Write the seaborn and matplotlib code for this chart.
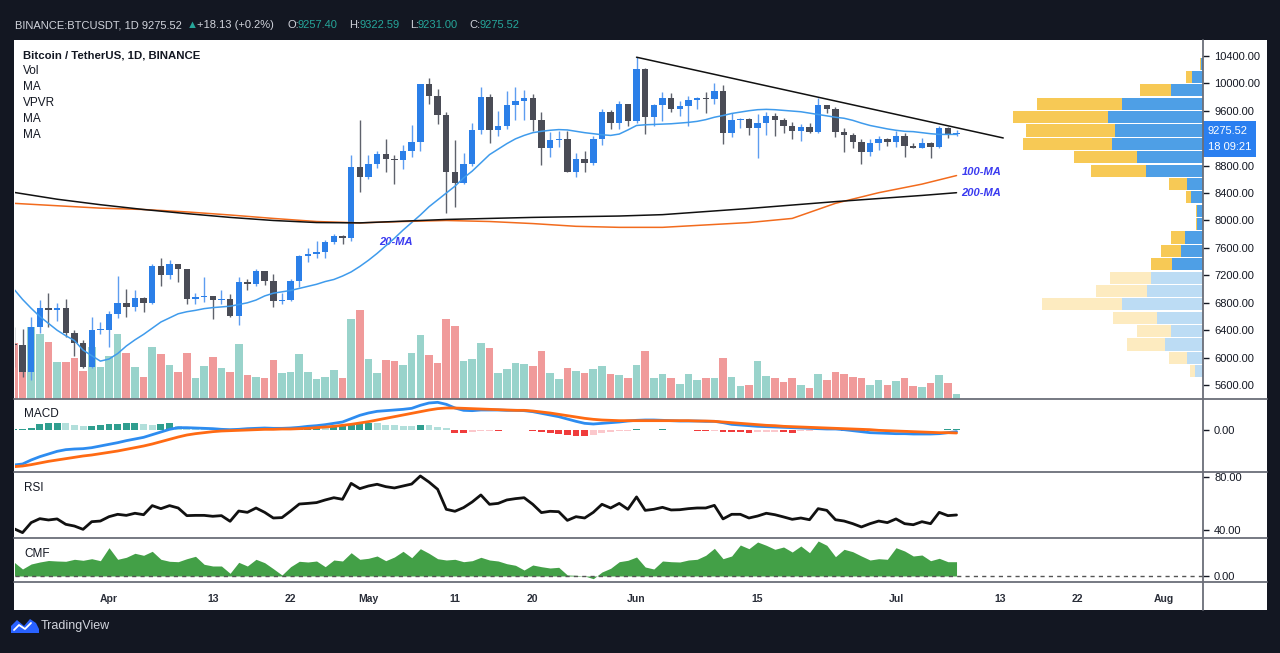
import numpy as np
import pandas as pd
import matplotlib
matplotlib.use('Agg')
import matplotlib.pyplot as plt
import matplotlib.dates as mdates
from matplotlib.patches import Rectangle, Polygon
from matplotlib.lines import Line2D
from matplotlib.transforms import blended_transform_factory
import seaborn as sns

W, H = 1280, 653

# ---- daily BTC/USDT candles, 2020-03-21 .. 2020-07-08 ----
start_date = '2020-03-21'
opens = [6200, 6180, 5790, 6450, 6730, 6690, 6730, 6360, 6220, 5860,
         6400, 6410, 6640, 6800, 6740, 6870, 6790, 7330, 7200, 7360,
         7290, 6850, 6880, 6905, 6845, 6860, 6610, 7100, 7080, 7260,
         7125, 6830, 6845, 7120, 7480, 7505, 7540, 7690, 7775, 7740,
         8780, 8630, 8830, 8970, 8890, 8875, 9020, 9140, 9985, 9810,
         9535, 8710, 8545, 8820, 9315, 9800, 9315, 9375, 9680, 9735,
         9785, 9460, 9055, 9180, 9185, 8705, 8890, 8845, 9185, 9580,
         9420, 9695, 9450, 10205, 9510, 9680, 9790, 9620, 9670, 9750,
         9780, 9775, 9890, 9275, 9465, 9475, 9345, 9425, 9530, 9460,
         9380, 9305, 9360, 9285, 9680, 9620, 9290, 9240, 9145, 9000,
         9125, 9185, 9140, 9230, 9085, 9060, 9135, 9070, 9345, 9257.40]
highs = [6440, 6420, 6600, 6840, 6950, 6790, 6860, 6400, 6260, 6600,
         6520, 6680, 7190, 7000, 6990, 6890, 7370, 7450, 7420, 7370,
         7290, 6950, 7180, 6905, 6990, 6930, 7170, 7150, 7300, 7260,
         7220, 6940, 7150, 7500, 7600, 7700, 7720, 7800, 7795, 8950,
         9460, 8950, 9010, 9190, 8950, 9100, 9390, 9990, 10070, 9915,
         9575, 9170, 8980, 9420, 9940, 9850, 9590, 9890, 9950, 9900,
         9845, 9580, 9290, 9310, 9310, 8980, 9016, 9225, 9625, 9605,
         9740, 9700, 10380, 10230, 9695, 9880, 9855, 9735, 9810, 9800,
         9880, 10000, 9970, 9560, 9495, 9490, 9545, 9580, 9565, 9490,
         9435, 9400, 9425, 9780, 9690, 9660, 9350, 9280, 9190, 9185,
         9235, 9200, 9305, 9270, 9125, 9200, 9145, 9375, 9365, 9322.59]
lows = [5860, 5720, 5680, 6360, 6440, 6530, 6300, 6030, 5850, 5850,
        6350, 6160, 6580, 6600, 6680, 6670, 6780, 7050, 7150, 7110,
        6780, 6780, 6810, 6570, 6780, 6600, 6470, 6990, 7040, 7060,
        6740, 6780, 6820, 7030, 7400, 7450, 7460, 7660, 7660, 7700,
        8420, 8610, 8760, 8710, 8530, 8750, 8930, 9020, 9700, 9400,
        8110, 8200, 8530, 8800, 9255, 9130, 9230, 9330, 9460, 9470,
        9300, 8810, 8930, 9075, 8700, 8630, 8700, 8810, 9100, 9330,
        9330, 9375, 9420, 9266, 9380, 9450, 9580, 9530, 9380, 9620,
        9560, 9700, 9110, 9220, 9355, 9240, 8915, 9240, 9230, 9280,
        9195, 9160, 9275, 9280, 9570, 9210, 9005, 9050, 8820, 8940,
        9025, 9080, 9070, 8925, 9050, 9050, 8905, 9050, 9205, 9231.00]
closes = [6180, 5790, 6450, 6730, 6690, 6730, 6360, 6220, 5860, 6400,
          6410, 6640, 6800, 6740, 6870, 6790, 7330, 7200, 7360, 7290,
          6850, 6880, 6905, 6845, 6860, 6610, 7100, 7080, 7260, 7125,
          6830, 6845, 7120, 7480, 7505, 7540, 7690, 7775, 7740, 8780,
          8630, 8830, 8970, 8890, 8875, 9020, 9140, 9985, 9810, 9535,
          8710, 8545, 8820, 9315, 9800, 9315, 9375, 9680, 9735, 9785,
          9460, 9055, 9180, 9185, 8705, 8890, 8845, 9185, 9580, 9420,
          9695, 9450, 10205, 9510, 9680, 9790, 9620, 9670, 9750, 9780,
          9775, 9890, 9275, 9465, 9475, 9345, 9425, 9530, 9460, 9380,
          9305, 9360, 9285, 9680, 9620, 9290, 9240, 9145, 9000, 9125,
          9185, 9140, 9230, 9085, 9060, 9135, 9070, 9345, 9255, 9275.52]
volume = [56, 53, 72, 65, 57, 37, 37, 41, 28, 52,
          32, 43, 65, 46, 32, 22, 52, 45, 34, 27,
          46, 21, 33, 42, 31, 27, 55, 24, 22, 21,
          39, 26, 27, 45, 27, 20, 22, 29, 21, 80,
          89, 40, 26, 39, 38, 34, 46, 64, 44, 36,
          80, 73, 38, 40, 56, 51, 26, 30, 36, 35,
          33, 48, 26, 20, 31, 28, 26, 30, 33, 25,
          24, 21, 34, 48, 21, 25, 21, 15, 25, 19,
          21, 21, 41, 22, 13, 14, 38, 23, 21, 17,
          21, 14, 11, 25, 19, 27, 25, 22, 21, 14,
          19, 14, 18, 21, 13, 12, 16, 24, 16, 5]

ma20 = [7000, 6850, 6720, 6600, 6500, 6400, 6320, 6250, 6110, 6030,
        5950, 5980, 6060, 6170, 6260, 6340, 6430, 6520, 6580, 6640,
        6670, 6690, 6715, 6730, 6740, 6750, 6775, 6800, 6840, 6900,
        6940, 6960, 6980, 7010, 7040, 7070, 7110, 7140, 7190, 7250,
        7330, 7420, 7520, 7630, 7740, 7860, 7970, 8080, 8200, 8300,
        8400, 8500, 8620, 8720, 8840, 8960, 9040, 9120, 9190, 9240,
        9280, 9300, 9315, 9325, 9320, 9300, 9280, 9265, 9250, 9240,
        9260, 9320, 9385, 9395, 9400, 9405, 9410, 9420, 9430, 9445,
        9470, 9505, 9530, 9560, 9580, 9600, 9615, 9620, 9615, 9605,
        9595, 9585, 9565, 9545, 9525, 9505, 9490, 9460, 9420, 9385,
        9360, 9335, 9315, 9300, 9295, 9280, 9265, 9255, 9255, 9255]
ma_days = [0, 5, 10, 15, 20, 25, 30, 35, 40, 45, 50, 55, 60, 65, 70,
           75, 80, 85, 90, 95, 100, 105, 109]
ma100 = [8250, 8215, 8180, 8160, 8125, 8080, 8030, 7985, 7965, 7985, 8000, 7985,
         7955, 7915, 7900, 7900, 7935, 7970, 8030, 8250, 8405, 8530, 8655]
ma200 = [8410, 8310, 8230, 8160, 8100, 8045, 8000, 7970, 7965, 7990, 8015, 8030,
         8045, 8055, 8065, 8085, 8130, 8175, 8225, 8275, 8320, 8365, 8405]
trend_days = [72, 114.4]
trend_prices = [10380, 9203]

macd = [-1050, -1020, -900, -800, -720, -640, -590, -570, -560, -530,
        -480, -430, -380, -320, -270, -220, -140, -60, 20, 70,
        70, 60, 50, 40, 20, 10, 20, 40, 50, 60,
        50, 50, 60, 80, 110, 130, 160, 200, 240, 340,
        440, 510, 560, 580, 600, 620, 650, 740, 810, 830,
        770, 660, 590, 580, 600, 600, 600, 590, 590, 580,
        550, 500, 450, 400, 330, 260, 200, 180, 200, 220,
        240, 270, 290, 300, 300, 290, 280, 270, 270, 270,
        260, 260, 220, 170, 150, 130, 110, 100, 90, 80,
        70, 60, 50, 40, 30, 30, 10, -20, -50, -80,
        -90, -100, -110, -110, -120, -120, -120, -110, -80, -50]
signal = [-1100, -1080, -1040, -990, -940, -900, -860, -820, -780, -750,
          -710, -670, -630, -580, -530, -480, -420, -350, -280, -210,
          -150, -110, -80, -50, -30, -20, -10, 0, 10, 20,
          20, 30, 30, 40, 50, 70, 90, 110, 140, 170,
          210, 250, 300, 350, 400, 450, 500, 550, 600, 640,
          660, 660, 650, 640, 630, 620, 610, 600, 590, 590,
          570, 540, 510, 470, 430, 390, 350, 320, 300, 290,
          280, 280, 280, 280, 280, 280, 280, 280, 280, 270,
          270, 260, 240, 220, 200, 180, 160, 140, 130, 110,
          100, 90, 80, 70, 60, 50, 40, 30, 20, 10,
          -10, -20, -30, -40, -50, -60, -70, -80, -80, -90]
hist = [20, 20, 50, 170, 200, 220, 200, 150, 120, 130,
        140, 170, 190, 200, 210, 170, 160, 190, 200, 120,
        80, 50, 40, 30, 20, 10, 15, 20, 25, 20,
        15, 20, 40, 60, 70, 80, 75, 90, 110, 170,
        200, 210, 200, 160, 140, 120, 110, 150, 140, 100,
        50, -80, -100, -60, -40, -20, -25, -10, -8, -6,
        -20, -60, -100, -120, -160, -170, -190, -150, -90, -50,
        -30, -20, 20, 15, 10, 30, -10, -12, -14, -15,
        -17, -15, -50, -55, -60, -90, -70, -50, -45, -70,
        -75, -40, -30, -10, 10, -10, -15, -20, -30, -35,
        -40, -30, -20, -15, -12, -10, -8, 10, 30, 35]
rsi = [41.0, 38.0, 45.6, 48.6, 47.6, 48.4, 44.3, 43.0, 40.5, 46.3,
       46.8, 50.1, 51.9, 51.1, 52.7, 51.6, 58.5, 56.2, 58.5, 56.7,
       50.9, 51.1, 51.1, 50.4, 50.9, 46.6, 54.4, 53.4, 56.7, 53.4,
       49.1, 49.4, 54.4, 59.7, 60.2, 60.8, 62.8, 64.5, 63.3, 75.4,
       71.4, 73.4, 74.7, 72.9, 71.9, 73.4, 74.9, 81.0, 76.4, 70.9,
       55.7, 54.2, 57.0, 61.3, 66.6, 59.5, 60.2, 62.8, 63.8, 64.5,
       59.5, 53.2, 54.2, 53.9, 47.3, 50.1, 49.1, 53.4, 59.5, 56.7,
       60.2, 55.7, 65.1, 54.9, 55.7, 57.2, 55.2, 55.4, 56.2, 56.7,
       56.7, 58.7, 48.4, 51.9, 51.9, 49.1, 50.6, 52.7, 51.6, 49.9,
       48.1, 49.1, 47.8, 56.2, 54.9, 47.8, 46.8, 44.8, 42.3, 44.8,
       46.8, 45.6, 48.4, 44.8, 44.0, 46.3, 44.8, 53.4, 50.9, 51.4]
cmf = [0.14, 0.07, 0.12, 0.14, 0.155, 0.15, 0.147, 0.167, 0.157, 0.173,
       0.153, 0.283, 0.167, 0.187, 0.227, 0.207, 0.247, 0.167, 0.147, 0.143,
       0.173, 0.197, 0.117, 0.10, 0.10, 0.027, 0.137, 0.10, 0.167, 0.133,
       0.073, 0.01, 0.093, 0.147, 0.14, 0.15, 0.093, 0.16, 0.15, 0.233,
       0.167, 0.177, 0.20, 0.153, 0.19, 0.247, 0.183, 0.273, 0.227, 0.173,
       0.16, 0.167, 0.143, 0.153, 0.187, 0.16, 0.15, 0.123, 0.107, 0.06,
       0.11, 0.093, 0.08, 0.087, 0.01, 0.007, 0.0, -0.027, 0.04, 0.077,
       0.143, 0.157, 0.19, 0.09, 0.07, 0.15, 0.143, 0.14, 0.16, 0.167,
       0.207, 0.277, 0.173, 0.20, 0.31, 0.273, 0.34, 0.307, 0.267, 0.29,
       0.24, 0.30, 0.233, 0.35, 0.307, 0.193, 0.267, 0.243, 0.20, 0.16,
       0.173, 0.167, 0.283, 0.25, 0.20, 0.21, 0.153, 0.177, 0.143, 0.143]

# volume profile (VPVR), rows from top (10384) to bottom (5705)
vp_top, vp_bottom = 10384, 5705
vp_up = [7, 32, 97, 242, 284, 263, 272, 199, 170, 49, 37, 17,
         17, 55, 67, 94, 157, 169, 244, 139, 97, 113, 49, 23]
vp_down = [3, 18, 93, 255, 286, 267, 268, 189, 165, 54, 13, 3,
           3, 42, 60, 63, 121, 153, 238, 130, 100, 114, 54, 15]
value_area_rows = 16

price_ticks = [5600, 6000, 6400, 6800, 7200, 7600, 8000, 8400, 8800,
               9200, 9600, 10000, 10400]
hidden_tick = 9200   # covered by the last-price box
date_ticks = ['2020-04-01', '2020-04-13', '2020-04-22', '2020-05-01', '2020-05-11',
              '2020-05-20', '2020-06-01', '2020-06-15', '2020-07-01', '2020-07-13',
              '2020-07-22', '2020-08-01']
date_labels = ['Apr', '13', '22', 'May', '11', '20', 'Jun', '15', 'Jul', '13', '22', 'Aug']


def box(x0, y0, x1, y1):
    return [x0 / W, 1 - y1 / H, (x1 - x0) / W, (y1 - y0) / H]


def fp(x, y):
    return (x / W, 1 - y / H)


sns.set_style('white')
plt.rcParams['font.family'] = ['Liberation Sans', 'DejaVu Sans']
TXT = '#131722'
UP, DOWN = '#2b7fe8', '#4a4c56'

fig = plt.figure(figsize=(W / 100, H / 100), dpi=100, facecolor='#131722')
fig.add_artist(Rectangle(fp(14, 610), (1267 - 14) / W, 570 / H, transform=fig.transFigure,
                         facecolor='white', edgecolor='none', zorder=-5))

dates = pd.date_range(start_date, periods=len(closes), freq='D')
xd = mdates.date2num(dates.to_pydatetime())
x0 = xd[0]
xlim = (x0 + 0.13, x0 + 137.5)
plim = (5405, 10631)
o, h, l, c = map(np.array, (opens, highs, lows, closes))
is_up = c >= o

# volume (under the candles)
axv = fig.add_axes(box(15, 40, 1203, 398.5))
axv.bar(xd, volume, width=0.88, color=np.where(is_up, '#99d3cb', '#f09a9a'), linewidth=0)
axv.set_xlim(xlim)
axv.set_ylim(0, 358.5)
axv.axis('off')

# price panel
axp = fig.add_axes(box(15, 40, 1203, 398.5))
axp.patch.set_alpha(0)
axp.vlines(xd, l, h, colors=np.where(is_up, '#5d9df0', '#5f626c'), linewidth=1, zorder=3)
body = np.maximum(np.abs(c - o), 14)
axp.bar(xd, body, bottom=np.minimum(o, c), width=0.74,
        color=np.where(is_up, UP, DOWN), linewidth=0, zorder=4)
sns.lineplot(x=xd, y=ma20, ax=axp, color='#3f9bec', linewidth=1.1, zorder=5)
sns.lineplot(x=x0 + np.array(ma_days), y=ma100, ax=axp, color='#f26b1d', linewidth=1.1, zorder=5)
sns.lineplot(x=x0 + np.array(ma_days), y=ma200, ax=axp, color='#111111', linewidth=1.1, zorder=5)
sns.lineplot(x=x0 + np.array(trend_days), y=trend_prices, ax=axp, color='#111111', linewidth=1.1, zorder=5)
lab = dict(color='#3a3af0', fontsize=8, style='italic', fontweight='bold')
axp.text(x0 + 44.2, 7687, '20-MA', ha='center', va='center', **lab)
axp.annotate('100-MA', xy=(xd[-1], ma100[-1]), xytext=(5, 4), textcoords='offset pixels',
             va='center', ha='left', **lab)
axp.annotate('200-MA', xy=(xd[-1], ma200[-1]), xytext=(5, 0), textcoords='offset pixels',
             va='center', ha='left', **lab)
axp.set_xlim(xlim)
axp.set_ylim(plim)
axp.set_xticks([])
axp.yaxis.tick_right()
axp.set_yticks(price_ticks)
axp.set_yticklabels(['' if p == hidden_tick else f'{p:.2f}' for p in price_ticks])
for s in axp.spines.values():
    s.set_visible(False)
tr = blended_transform_factory(axp.transAxes, axp.transData)
axp.annotate(f'{closes[-1]:.2f}\n18 09:21', xy=(1, closes[-1]), xycoords=tr,
             xytext=(5, 7), textcoords='offset pixels', ha='left', va='top', color='white',
             fontsize=8, linespacing=1.75, annotation_clip=False, zorder=20,
             bbox=dict(boxstyle='square,pad=0.42', fc='#2a7ff0', ec='none'))

# volume profile
axvp = fig.add_axes(box(1003, 40, 1203, 398.5))
edges = np.linspace(vp_top, vp_bottom, len(vp_up) + 1)
centers = (edges[:-1] + edges[1:]) / 2
step = abs(edges[1] - edges[0])
rows = np.arange(len(vp_up))
axvp.barh(centers, vp_up, height=step * 0.9, linewidth=0,
          color=np.where(rows < value_area_rows, '#4e9fe6', '#bcdcf4'))
axvp.barh(centers, vp_down, left=vp_up, height=step * 0.9, linewidth=0,
          color=np.where(rows < value_area_rows, '#f7c955', '#fdebc0'))
axvp.set_xlim(600, 0)
axvp.set_ylim(plim)
axvp.axis('off')

# MACD panel
axm = fig.add_axes(box(15, 398.5, 1203, 471.5))
axm.patch.set_alpha(0)
hcols, prev = [], 0
for v in hist:
    if v >= 0:
        hcols.append('#2f9e8f' if v >= prev else '#b2dfdb')
    else:
        hcols.append('#f03c3c' if v <= prev else '#fbc8cc')
    prev = v
axm.bar(xd, hist, width=0.8, color=hcols, linewidth=0)
sns.lineplot(x=xd, y=macd, ax=axm, color='#2d8cf0', linewidth=2)
sns.lineplot(x=xd, y=signal, ax=axm, color='#ff6a13', linewidth=2)
axm.set_ylim(-1245, 945)
axm.set_yticks([0])
axm.set_yticklabels(['0.00'])

# RSI panel
axr = fig.add_axes(box(15, 471.5, 1203, 537.5))
axr.patch.set_alpha(0)
sns.lineplot(x=xd, y=rsi, ax=axr, color='#111111', linewidth=2)
axr.set_ylim(34.3, 84.4)
axr.set_yticks([40, 80])
axr.set_yticklabels(['40.00', '80.00'])

# CMF panel
axc = fig.add_axes(box(15, 537.5, 1203, 582))
axc.patch.set_alpha(0)
axc.fill_between(xd, 0, cmf, color='#43a047', linewidth=0)
axc.axhline(0, color='#555555', linewidth=1, linestyle=(0, (3, 3)))
axc.set_ylim(-0.06, 0.385)
axc.set_yticks([0])
axc.set_yticklabels(['0.00'])
axc.set_xticks(mdates.date2num(pd.to_datetime(date_ticks).to_pydatetime()))
axc.set_xticklabels(date_labels, fontsize=7.5, fontweight='bold', color='#2a2e39')
axc.tick_params(axis='x', length=4, width=1, pad=5, color='#555555')

for ax in (axm, axr, axc):
    ax.set_xlim(xlim)
    ax.yaxis.tick_right()
    for s in ax.spines.values():
        s.set_visible(False)
for ax in (axm, axr):
    ax.set_xticks([])
for ax in (axp, axm, axr, axc):
    ax.tick_params(axis='y', length=4, width=1, pad=4, labelsize=8, colors=TXT)

# separators
sep = dict(transform=fig.transFigure, color='#6b6e78', linewidth=1.3, zorder=10)
for yy in (398.5, 471.5, 537.5, 582):
    fig.add_artist(Line2D([14 / W, 1267 / W], [1 - yy / H] * 2, **sep))
fig.add_artist(Line2D([1203 / W] * 2, [1 - 40 / H, 1 - 610 / H], **sep))

# legend texts
fig.text(*fp(23, 55), 'Bitcoin / TetherUS, 1D, BINANCE', fontsize=8.2, fontweight='bold',
         color=TXT, va='center')
for k, name in enumerate(['Vol', 'MA', 'VPVR', 'MA', 'MA']):
    fig.text(*fp(23, 71 + 16 * k), name, fontsize=8.5, color=TXT, va='center')
for name, yy in (('MACD', 414), ('RSI', 488), ('CMF', 554)):
    fig.text(*fp(24, yy), name, fontsize=8.5, color=TXT, va='center')

# header
hdr = [('BINANCE:BTCUSDT, 1D 9275.52', 15, '#d1d4dc'), ('\u25b2', 187, '#26a69a'),
       ('+18.13 (+0.2%)', 197, '#d1d4dc'), ('O:', 287, '#d1d4dc'), ('9257.40', 298, '#26a69a'),
       ('H:', 349, '#d1d4dc'), ('9322.59', 360, '#26a69a'), ('L:', 410, '#d1d4dc'),
       ('9231.00', 418, '#26a69a'), ('C:', 469, '#d1d4dc'), ('9275.52', 479, '#26a69a')]
for t, xx, col in hdr:
    fig.text(*fp(xx, 25), t, fontsize=8, color=col, va='center')

# footer logo
fig.add_artist(Polygon([fp(11, 633), fp(11, 626), fp(17, 620), fp(24, 626), fp(30, 619),
                        fp(36, 623), fp(39, 629), fp(39, 633)], closed=True,
                       transform=fig.transFigure, facecolor='#2962ff', edgecolor='none'))
fig.add_artist(Line2D([p[0] for p in (fp(14, 630), fp(19, 625), fp(25, 629), fp(31, 623))],
                      [p[1] for p in (fp(14, 630), fp(19, 625), fp(25, 629), fp(31, 623))],
                      transform=fig.transFigure, color='white', linewidth=1.3))
fig.text(*fp(41, 626), 'TradingView', fontsize=9, color='#d1d4dc', va='center')

fig.savefig('out.png', dpi=100, facecolor=fig.get_facecolor())
